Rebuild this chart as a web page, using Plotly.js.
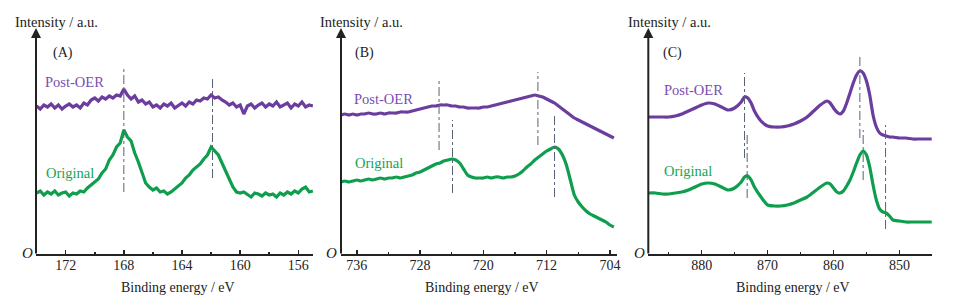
<!DOCTYPE html>
<html><head><meta charset="utf-8">
<script src="https://cdn.plot.ly/plotly-3.0.1.min.js"></script>
<style>html,body{margin:0;padding:0;background:#fff}#c{width:955px;height:303px}</style>
</head><body><div id="c"></div>
<script>
// ---- Panel A (S 2p) ----
const eA = [174,173.75,173.5,173.25,173,172.75,172.5,172.25,172,171.75,171.5,171.25,171,170.75,170.5,
  170.25,170,169.75,169.5,169.25,169,168.75,168.5,168.25,168,
  167.75,167.5,167.25,167,166.75,166.5,166.25,166,165.75,165.5,165.25,165,
  164.75,164.5,164.25,164,163.75,163.5,163.25,163,162.75,162.5,162.25,162,
  161.75,161.5,161.25,161,160.75,160.5,160.25,160,
  159.75,159.5,159.25,159,158.75,158.5,158.25,158,157.75,157.5,157.25,157,156.75,156.5,156.25,156,155.75,155.5,155.25,155];
const origA = [62,64,60,63,61,64,60,62,63,59,62,61,64,63,67,
  70,73,76,82,86,95,100,108,112,125,
  118,114,102,93,83,72,68,65,67,63,64,61,
  63,66,70,72,77,80,85,88,91,96,100,108,
  104,100,92,84,75,68,63,62,
  63,60,58,62,61,59,62,60,61,58,62,60,63,61,64,62,66,68,63,64];
const postA = [149,146,150,148,151,147,150,146,149,151,148,150,147,152,150,
  155,157,154,158,156,159,157,160,159,166,
  160,156,159,153,155,151,153,148,150,147,151,149,
  152,147,150,152,149,153,151,155,154,157,156,160,
  157,158,155,153,150,152,148,150,
  141,149,151,147,150,152,148,151,149,153,148,150,152,147,151,149,153,148,150,149];
const peakA_E = [168.0, 161.9], peakA_lo = [63, 77], peakA_hi = [187, 179];

// ---- Panel B (Fe 2p) ----
const eB = [738,737.5,737,736.5,736,735.5,735,734.5,734,733.5,
  733,732.5,732,731.5,731,730.5,730,729.5,729,728.5,
  728,727.5,727,726.5,726,725.5,725,724.5,724,723.5,
  723,722.5,722,721.5,721,720.5,720,719.5,719,718.5,
  718,717.5,717,716.5,716,715.5,715,714.5,714,713.5,
  713,712.5,712,711.5,711,710.5,710,709.5,709,708.5,
  708,707.5,707,706.5,706,705.5,705,704.5,704,703.5];
const origB = [73,74,73,74,75,74,75,76,75,76,
  77,76,77,77,78,77,78,79,80,82,
  83,85,87,89,91,92,94,95,96,95,
  92,86,80,78,77,77,77,78,77,78,
  78,77,78,78,79,81,84,88,91,95,
  98,101,104,106,108,106,100,90,75,60,
  53,48,44,41,39,37,35,33,30,28];
const postB = [140,141,140,141,140,141,141,142,141,141,
  142,141,142,142,142,143,143,143,144,145,
  146,147,148,149,149,150,150,150,149,149,
  148,148,147,147,147,147,148,148,149,150,
  151,152,153,154,155,156,157,158,159,160,
  159,158,156,154,152,149,146,143,140,137,
  135,133,131,129,127,125,123,121,119,117];
const peakB_E = [725.6, 713.1, 723.9, 711.0], peakB_lo = [105, 110, 62, 58], peakB_hi = [175, 183, 135, 142];

// ---- Panel C (Ni 2p) ----
const eC = [888,887,886,885,884,883,882,881,880,879,878,877,876,875,874,
  873.5,873,872.5,872,
  871,870,869,868,867,866,865,864,863,862,861,
  860.5,860,859.5,859,858.5,858,857.5,857,856.5,856,855.5,855,854.5,854,853.5,853,852.5,852,851.5,851,
  850,849,848,847,846,845];
const origC = [62,62,61,61,62,63,65,68,71,72,71,68,65,67,73,
  78,79,75,68,
  58,50,49,49,50,52,55,58,63,68,72,
  71,67,63,62,64,69,75,83,92,100,104,100,88,70,55,46,43,42,39,35,
  34,33,33,33,33,33];
const postC = [138,138,138,138,139,141,144,147,150,152,151,148,145,147,153,
  158,157,152,144,
  134,129,128,128,129,131,134,138,144,150,154,
  152,147,143,141,144,152,162,172,180,184,182,174,160,140,128,122,120,119,118,118,
  117,117,116,116,116,116];
const peakC_E = [873.5, 873.1, 856.0, 855.5, 852.1], peakC_lo = [97, 57, 117, 75, 26], peakC_hi = [182, 122, 199, 125, 130];

const ticksA = [172,168,164,160,156], ticksB = [736,728,720,712,704], ticksC = [880,870,860,850];
const seriesNames = ['Post-OER','Original'];
const panelLabels = ['(A)','(B)','(C)'];
const yTitle = 'Intensity / a.u.', xTitle = 'Binding energy / eV';

// ---- drawing ----
const W = 955, H = 303;
const PX = x => x / W, PY = y => 1 - y / H;
const PURPLE = '#6a3d9f', GREEN = '#0f9e4e';
const PURPLE_T = '#7a4cb0', GREEN_T = '#16a352';
const FONT = 'Liberation Serif, Times New Roman, serif';

const traces = [];
function addSeries(x, y, col, ax, shape) {
  traces.push({x: x, y: y, type: 'scatter', mode: 'lines', xaxis: 'x' + ax, yaxis: 'y' + ax,
    line: {color: col, width: 3.2, shape: shape, smoothing: 0.6}, hoverinfo: 'skip', showlegend: false});
}
addSeries(eA, postA, PURPLE, '', 'linear');
addSeries(eA, origA, GREEN, '', 'linear');
addSeries(eB, postB, PURPLE, '2', 'spline');
addSeries(eB, origB, GREEN, '2', 'spline');
addSeries(eC, postC, PURPLE, '3', 'spline');
addSeries(eC, origC, GREEN, '3', 'spline');

const shapes = [];
function addPeaks(E, lo, hi, ax) {
  E.forEach((e, i) => shapes.push({type: 'line', xref: 'x' + ax, yref: 'y' + ax, x0: e, x1: e, y0: lo[i], y1: hi[i],
    line: {color: '#586275', width: 1, dash: 'dashdot'}}));
}
addPeaks(peakA_E, peakA_lo, peakA_hi, '');
addPeaks(peakB_E, peakB_lo, peakB_hi, '2');
addPeaks(peakC_E, peakC_lo, peakC_hi, '3');

const yDom = [PY(255), PY(35)];
function xax(dom, range, ticks, dt, mdt) {
  return {domain: dom, range: range, anchor: 'free', position: yDom[0], tickmode: 'array', tickvals: ticks,
    showline: true, linecolor: '#222', linewidth: 2, ticks: 'inside', ticklen: 4, tickwidth: 1.5, tickcolor: '#222',
    ticklabelstandoff: -3,
    minor: {tickmode: 'linear', dtick: mdt, tick0: ticks[0], ticks: 'inside', ticklen: 2, tickwidth: 1.5, tickcolor: '#222', showgrid: false},
    showgrid: false, zeroline: false, tickfont: {family: FONT, size: 14, color: '#222'}, fixedrange: true};
}
function yax() {
  return {domain: yDom, range: [0, 220], visible: false, showgrid: false, zeroline: false, fixedrange: true};
}

const ann = [];
function txt(t, x, y, xa, col, size, extra) {
  ann.push(Object.assign({text: t, xref: 'paper', yref: 'paper', x: PX(x), y: PY(y), xanchor: xa, yanchor: 'middle',
    showarrow: false, font: {family: FONT, size: size, color: col}}, extra || {}));
}
const axisX = [36, 341, 648.3];
const yTitleX = [13, 318, 626];
const panelX = [62.5, 364, 672];
const postPos = [[43, 82], [351.7, 99], [662.3, 90]];
const origPos = [[44, 173], [353, 162.7], [662.3, 170.7]];
const oX = [27, 331.5, 639.3];
const xTitleX = [178, 482, 793];
for (let i = 0; i < 3; i++) {
  txt(yTitle, yTitleX[i], 22, 'left', '#222', 14.5);
  txt(panelLabels[i], panelX[i], 53, 'center', '#222', 14);
  txt(seriesNames[0], postPos[i][0], postPos[i][1], 'left', PURPLE_T, 14.5);
  txt(seriesNames[1], origPos[i][0], origPos[i][1], 'left', GREEN_T, 14.5);
  txt('<i>O</i>', oX[i], 253, 'center', '#222', 15);
  txt(xTitle, xTitleX[i], 287, 'center', '#222', 14);
  ann.push({text: '', xref: 'paper', yref: 'paper', x: PX(axisX[i]), y: PY(28), ax: 0, ay: 227,
    showarrow: true, arrowhead: 2, arrowsize: 1, arrowwidth: 2, arrowcolor: '#222', standoff: 0, startstandoff: 0});
}

const layout = {
  width: W, height: H, margin: {l: 0, r: 0, t: 0, b: 0}, paper_bgcolor: '#fff', plot_bgcolor: 'rgba(0,0,0,0)',
  showlegend: false,
  xaxis: xax([PX(36), PX(313.3)], [174.04, 154.97], ticksA, 4, 2),
  xaxis2: xax([PX(341), PX(617)], [738.0, 703.1], ticksB, 8, 4),
  xaxis3: xax([PX(648.3), PX(931.7)], [888.1, 845.1], ticksC, 10, 5),
  yaxis: Object.assign(yax(), {anchor: 'x'}),
  yaxis2: Object.assign(yax(), {anchor: 'x2'}),
  yaxis3: Object.assign(yax(), {anchor: 'x3'}),
  shapes: shapes, annotations: ann
};
Plotly.newPlot('c', traces, layout, {staticPlot: true, displayModeBar: false});
</script></body></html>
